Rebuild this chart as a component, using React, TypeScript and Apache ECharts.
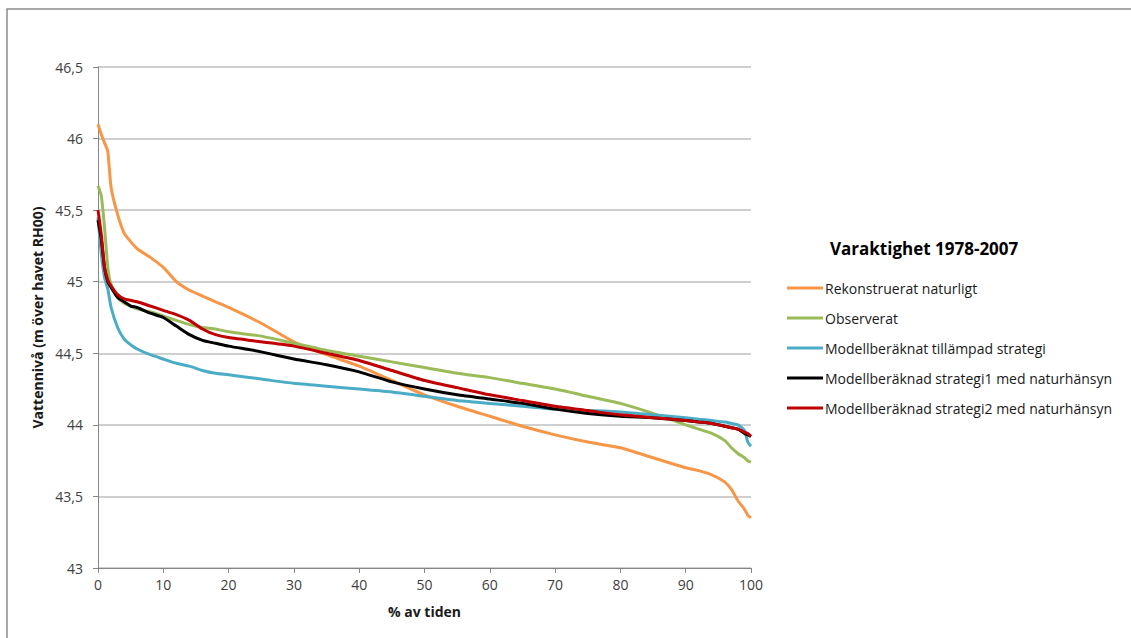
import React, { useEffect, useRef } from "react";
import * as echarts from "echarts";

const pct = [0, 0.5, 1, 1.5, 2, 3, 4, 5, 6, 8, 10, 12, 14, 16, 18, 20, 25, 30, 35, 40, 45, 50, 55, 60, 65, 70, 75, 80, 85, 90, 92, 94, 96, 97, 98, 99, 99.5, 100];

const rekonstruerat = [46.10, 46.03, 45.97, 45.91, 45.66, 45.47, 45.34, 45.28, 45.23, 45.17, 45.10, 45.00, 44.94, 44.90, 44.86, 44.82, 44.71, 44.58, 44.49, 44.41, 44.31, 44.21, 44.13, 44.06, 43.99, 43.93, 43.88, 43.84, 43.77, 43.70, 43.68, 43.65, 43.60, 43.55, 43.47, 43.41, 43.37, 43.35];
const observerat = [45.67, 45.60, 45.38, 45.10, 44.98, 44.89, 44.85, 44.83, 44.81, 44.79, 44.76, 44.73, 44.70, 44.68, 44.67, 44.65, 44.62, 44.57, 44.52, 44.48, 44.44, 44.40, 44.36, 44.33, 44.29, 44.25, 44.20, 44.15, 44.08, 44.00, 43.97, 43.94, 43.89, 43.84, 43.80, 43.77, 43.75, 43.74];
const tillampad = [45.45, 45.20, 45.03, 44.95, 44.82, 44.68, 44.60, 44.56, 44.53, 44.49, 44.46, 44.43, 44.41, 44.38, 44.36, 44.35, 44.32, 44.29, 44.27, 44.25, 44.23, 44.20, 44.17, 44.15, 44.13, 44.11, 44.10, 44.09, 44.07, 44.05, 44.04, 44.03, 44.02, 44.01, 44.00, 43.96, 43.88, 43.85];
const strategi1 = [45.43, 45.30, 45.10, 45.00, 44.96, 44.89, 44.86, 44.83, 44.82, 44.78, 44.75, 44.69, 44.63, 44.59, 44.57, 44.55, 44.51, 44.46, 44.42, 44.37, 44.30, 44.25, 44.21, 44.18, 44.15, 44.11, 44.08, 44.06, 44.05, 44.03, 44.02, 44.01, 43.99, 43.98, 43.97, 43.94, 43.93, 43.92];
const strategi2 = [45.50, 45.33, 45.10, 45.01, 44.97, 44.91, 44.88, 44.87, 44.86, 44.83, 44.80, 44.77, 44.73, 44.67, 44.63, 44.61, 44.58, 44.55, 44.50, 44.45, 44.38, 44.31, 44.26, 44.21, 44.17, 44.13, 44.10, 44.07, 44.05, 44.03, 44.02, 44.01, 43.99, 43.98, 43.97, 43.95, 43.94, 43.92];

const seriesNames = [
  "Rekonstruerat naturligt",
  "Observerat",
  "Modellberäknat tillämpad strategi",
  "Modellberäknad strategi1 med naturhänsyn",
  "Modellberäknad strategi2 med naturhänsyn",
];
const seriesValues = [rekonstruerat, observerat, tillampad, strategi1, strategi2];
const colors = ["#F79646", "#9BBB59", "#4BACC6", "#000000", "#C00000"];

const FONT = "'Open Sans', 'Liberation Sans', sans-serif";

export default function App() {
  const ref = useRef<HTMLDivElement>(null);
  useEffect(() => {
    document.body.style.margin = "0";
    const chart = echarts.init(ref.current!, null, { renderer: "svg" });
    chart.setOption({
      animation: false,
      backgroundColor: "#ffffff",
      color: colors,
      title: {
        text: "Varaktighet 1978-2007",
        left: 825,
        top: 235,
        textStyle: { fontFamily: FONT, fontSize: 17, fontWeight: "bold", color: "#000" },
      },
      legend: {
        orient: "vertical",
        left: 782,
        top: 276,
        itemWidth: 36,
        itemHeight: 3,
        itemGap: 16,
        icon: "rect",
        textStyle: { fontFamily: FONT, fontSize: 14, color: "#1a1a1a", padding: [0, 0, 0, -3] },
        data: seriesNames,
      },
      graphic: [
        {
          type: "rect",
          shape: { x: 7, y: 9, width: 1200, height: 700 },
          style: { fill: "none", stroke: "#8c8c8c", lineWidth: 1.5 },
          silent: true,
        },
      ],
      grid: { left: 98, right: 380, top: 67, bottom: 70, containLabel: false },
      xAxis: {
        type: "value",
        min: 0,
        max: 100,
        interval: 10,
        name: "% av tiden",
        nameLocation: "middle",
        nameGap: 36,
        nameTextStyle: { fontFamily: FONT, fontSize: 14, fontWeight: "bold", color: "#1a1a1a" },
        axisLine: { show: true, lineStyle: { color: "#868686", width: 1 } },
        axisTick: { show: true, length: 5, lineStyle: { color: "#868686" } },
        axisLabel: { fontFamily: FONT, fontSize: 14, color: "#404040", margin: 9 },
        splitLine: { show: false },
      },
      yAxis: {
        type: "value",
        min: 43,
        max: 46.5,
        interval: 0.5,
        name: "Vattennivå (m över havet RH00)",
        nameLocation: "middle",
        nameGap: 53,
        nameTextStyle: { fontFamily: FONT, fontSize: 14, fontWeight: "bold", color: "#1a1a1a" },
        axisLine: { show: true, lineStyle: { color: "#868686", width: 1 } },
        axisTick: { show: true, length: 5, lineStyle: { color: "#868686" } },
        axisLabel: {
          fontFamily: FONT,
          fontSize: 14,
          color: "#404040",
          margin: 15,
          formatter: (v: number) => String(v).replace(".", ","),
        },
        splitLine: { show: true, lineStyle: { color: "#bfbfbf", width: 1.5 } },
      },
      series: seriesNames.map((name, i) => ({
        name,
        type: "line",
        showSymbol: false,
        symbol: "none",
        smooth: 0.2,
        lineStyle: { width: 3, color: colors[i] },
        data: pct.map((p, j) => [p, seriesValues[i][j]]),
      })),
    });
    return () => chart.dispose();
  }, []);
  return <div ref={ref} style={{ width: 1131, height: 638 }} />;
}
